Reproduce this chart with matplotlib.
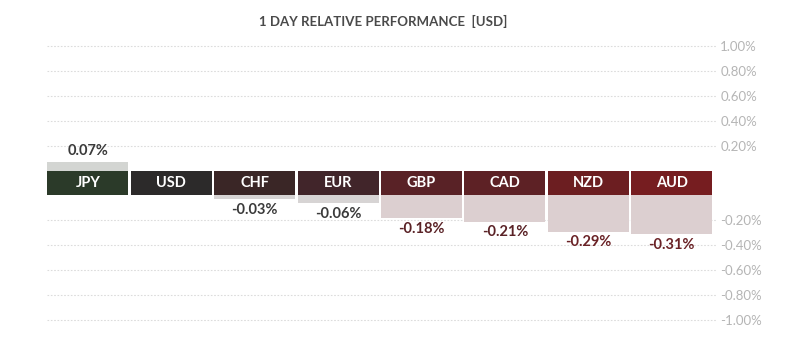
import matplotlib
matplotlib.use("Agg")
import matplotlib.pyplot as plt

# ---- data ----
currencies = ["JPY", "USD", "CHF", "EUR", "GBP", "CAD", "NZD", "AUD"]
values = [0.07, 0.0, -0.03, -0.06, -0.18, -0.21, -0.29, -0.31]
value_labels = ["0.07%", "", "-0.03%", "-0.06%", "-0.18%", "-0.21%", "-0.29%", "-0.31%"]
tick_values = [1.0, 0.8, 0.6, 0.4, 0.2, -0.2, -0.4, -0.6, -0.8, -1.0]
title = "1 DAY RELATIVE PERFORMANCE  [USD]"

# ---- style ----
band_colors = ["#2b3a29", "#2c2a2a", "#3a2626", "#41252a", "#592226", "#5d2125", "#6c1e21", "#761d20"]
bar_colors = ["#d3d5d2", "#d6d4d4", "#d7d4d4", "#d7d4d4", "#dccfd0", "#dccfd0", "#dccfd0", "#dccfd0"]
text_colors = ["#3a3a3a", "#3a3a3a", "#3a3a3a", "#3a3a3a", "#5a2226", "#5a2226", "#6a2226", "#6a2226"]
HALF = 0.1  # half-height of the label band in data units
plt.rcParams["font.family"] = ["Lato", "DejaVu Sans"]

W, H = 800, 347
fig = plt.figure(figsize=(W / 100, H / 100), dpi=100)
ylim = 1.12
ppu = 124.5
top_px = 46 - (ylim - 1.1) * ppu
bot_px = 320 + (ylim - 1.1) * ppu
ax = fig.add_axes([47 / W, 1 - bot_px / H, (716 - 47) / W, (bot_px - top_px) / H])
ax.set_ylim(-ylim, ylim)
ax.set_xlim(-0.49, 7.53)

for s in ax.spines.values():
    s.set_visible(False)

for t in tick_values:
    y = t + HALF if t > 0 else t - HALF
    ax.axhline(y, color="#dcdcdc", lw=0.8, ls=(0, (1.5, 1.5)), zorder=0)

ax.set_yticks([t + HALF if t > 0 else t - HALF for t in tick_values])
ax.set_yticklabels([f"{t:.2f}%" for t in tick_values])
ax.yaxis.tick_right()
ax.tick_params(axis="y", length=0, pad=3, labelsize=9.5, labelcolor="#b5b5b5")
ax.set_xticks([])

bw = 0.97
for i, (c, v) in enumerate(zip(currencies, values)):
    ax.bar(i, 2 * HALF, bottom=-HALF, width=bw, color=band_colors[i], zorder=2)
    ax.text(i, -0.003, c, ha="center", va="center", color="white", fontsize=10.5,
            fontweight="bold", zorder=3)
    if v > 0:
        ax.bar(i, v, bottom=HALF, width=bw, color=bar_colors[i], zorder=1)
        ax.text(i, HALF + v + 0.03, value_labels[i], ha="center", va="bottom",
                color=text_colors[i], fontsize=10.5, fontweight="bold")
    elif v < 0:
        ax.bar(i, v, bottom=-HALF, width=bw, color=bar_colors[i], zorder=1)
        ax.text(i, -HALF + v - 0.03, value_labels[i], ha="center", va="top",
                color=text_colors[i], fontsize=10.5, fontweight="bold")

fig.text(383 / W, 1 - 21 / H, title, ha="center", va="center", fontsize=9.5,
         color="#4a4a4a", fontweight="bold")

fig.savefig("out.png", dpi=100, facecolor="white")
